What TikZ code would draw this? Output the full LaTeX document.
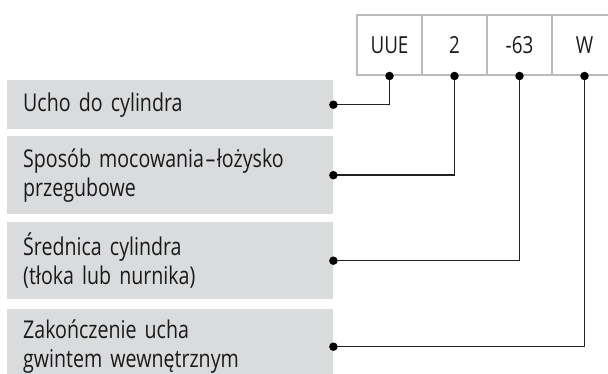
\documentclass[tikz,border=0pt]{standalone}
\usepackage{fontspec}
\setmainfont{Open Sans}[FakeStretch=0.8]
\begin{document}
\begin{tikzpicture}[x=1pt,y=-1pt,
  code/.style={draw=codegray,line width=2pt,minimum width=65pt,minimum height=60pt,inner sep=0pt,font=\fontsize{23.5}{27}\selectfont,text=textdark},
  label/.style={fill=boxgray,anchor=north west,minimum width=326pt,text width=294pt,inner xsep=16pt,inner ysep=0pt,align=left,font=\fontsize{24.5}{29}\selectfont,text=textdark},
  conn/.style={line width=1.4pt,draw=linedark},
  dot/.style={circle,fill=black,inner sep=0pt,minimum size=8.5pt}]
\definecolor{codegray}{HTML}{BBBBBB}
\definecolor{boxgray}{HTML}{DADBDD}
\definecolor{textdark}{HTML}{1A1A1A}
\definecolor{linedark}{HTML}{222222}
\useasboundingbox (0,0) rectangle (608,374);
\clip (0,0) rectangle (608,374);
% code boxes
\node[code] (t1) at (389.5,45) {UUE};
\node[code] (t2) at (454.5,45) {2};
\node[code] (t3) at (519.5,45) {-63};
\node[code] (t4) at (584.5,45) {W};
% label boxes
\node[label,minimum height=49pt] (l1) at (7,80) {Ucho do cylindra};
\node[label,minimum height=78pt] (l2) at (7,136) {Sposób mocowania\kern1.5pt–\kern1.5ptłożysko\\przegubowe};
\node[label,minimum height=77pt] (l3) at (7,222) {Średnica cylindra\\(tłoka lub nurnika)};
\node[label,minimum height=75pt] (l4) at (7,309) {Zakończenie ucha\\gwintem wewnętrznym};
% connectors
\draw[conn] (l1.east) -| (t1.south);
\draw[conn] (l2.east) -| (t2.south);
\draw[conn] (l3.east) -| (t3.south);
\draw[conn] (l4.east) -| (t4.south);
% dots
\foreach \n in {t1,t2,t3,t4} \node[dot] at (\n.south) {};
\foreach \n in {l1,l2,l3,l4} \node[dot] at (\n.east) {};
\end{tikzpicture}
\end{document}
